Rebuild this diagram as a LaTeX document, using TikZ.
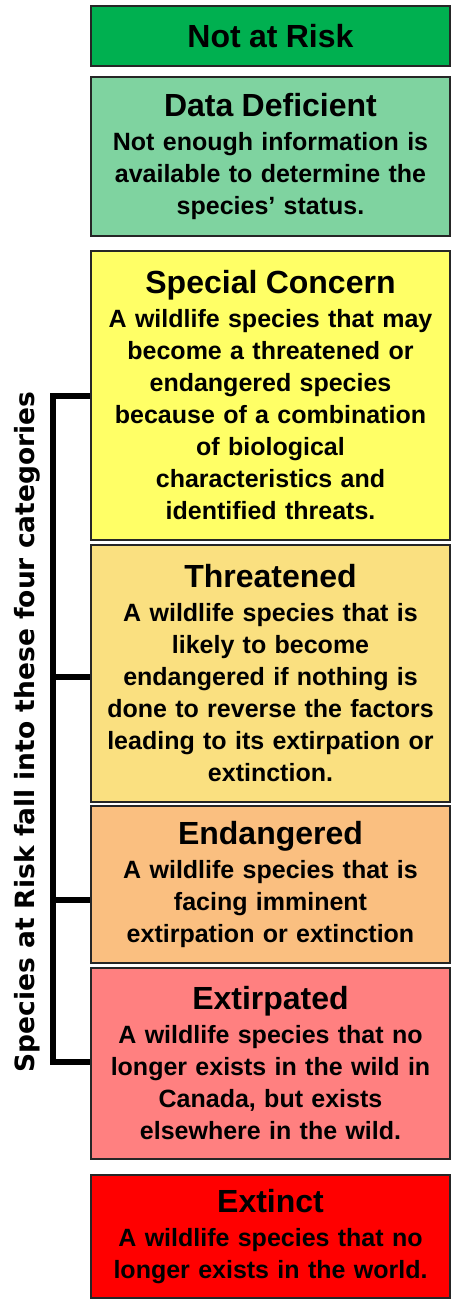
\documentclass[tikz,border=0pt]{standalone}
\usepackage{fontspec}
\setmainfont{Liberation Sans}
\newfontfamily\sidefont{DejaVu Sans}

\definecolor{notrisk}{HTML}{00B050}
\definecolor{datadef}{HTML}{7FD3A0}
\definecolor{special}{HTML}{FFFF66}
\definecolor{threat}{HTML}{FAE080}
\definecolor{endanger}{HTML}{FABF80}
\definecolor{extirp}{HTML}{FF8080}
\definecolor{extinct}{HTML}{FF0000}

\newcommand{\boxhead}[1]{{\fontsize{32}{36}\selectfont #1}\\[2pt]}

\begin{document}
\begin{tikzpicture}[x=1pt,y=-1pt,
    box/.style={draw=black!85, line width=1.2pt, minimum width=359pt, text width=352pt,
                align=center, inner sep=0pt, font=\bfseries\fontsize{25}{32}\selectfont},
    bracket/.style={line width=5.5pt}]
    \useasboundingbox (0,0) rectangle (455,1299);

    \node[box, fill=notrisk, minimum height=60pt] (nar) at (270.5,36) {{\fontsize{32}{36}\selectfont Not at Risk}};
    \node[box, fill=datadef, minimum height=159pt] (dd) at (270.5,156.5)
        {\boxhead{Data Deficient}Not enough information is\\available to determine the\\species’ status.};

    \node[box, fill=special, minimum height=289pt] (sc) at (270.5,395.5)
        {\boxhead{Special Concern}A wildlife species that may\\become a threatened or\\endangered species\\because of a combination\\of biological\\characteristics and\\identified threats.};
    \node[box, fill=threat, minimum height=257pt] (th) at (270.5,673.5)
        {\boxhead{Threatened}A wildlife species that is\\likely to become\\endangered if nothing is\\done to reverse the factors\\leading to its extirpation or\\extinction.};
    \node[box, fill=endanger, minimum height=157pt] (en) at (270.5,884.5)
        {\boxhead{Endangered}A wildlife species that is\\facing imminent\\extirpation or extinction};
    \node[box, fill=extirp, minimum height=191pt] (ex) at (270.5,1063.5)
        {\boxhead{Extirpated}A wildlife species that no\\longer exists in the wild in\\Canada, but exists\\elsewhere in the wild.};

    \node[box, fill=extinct, minimum height=123pt] (et) at (270.5,1236.5)
        {\boxhead{Extinct}A wildlife species that no\\longer exists in the world.};

    % bracket for the four at-risk categories
    \coordinate (btop) at (53,396);
    \coordinate (bbot) at (53,1062);
    \coordinate (bth) at (53,677);
    \coordinate (ben) at (53,900);
    \draw[bracket] (sc.west |- btop) -- (btop) -- (bbot) -- (ex.west |- bbot);
    \draw[bracket] (bth) -- (bth -| th.west);
    \draw[bracket] (ben) -- (ben -| en.west);

    \node[rotate=90, font=\sidefont\bfseries\fontsize{26.5}{30}\selectfont] (side) at (27,732)
        {Species at Risk fall into these four categories};
\end{tikzpicture}
\end{document}
